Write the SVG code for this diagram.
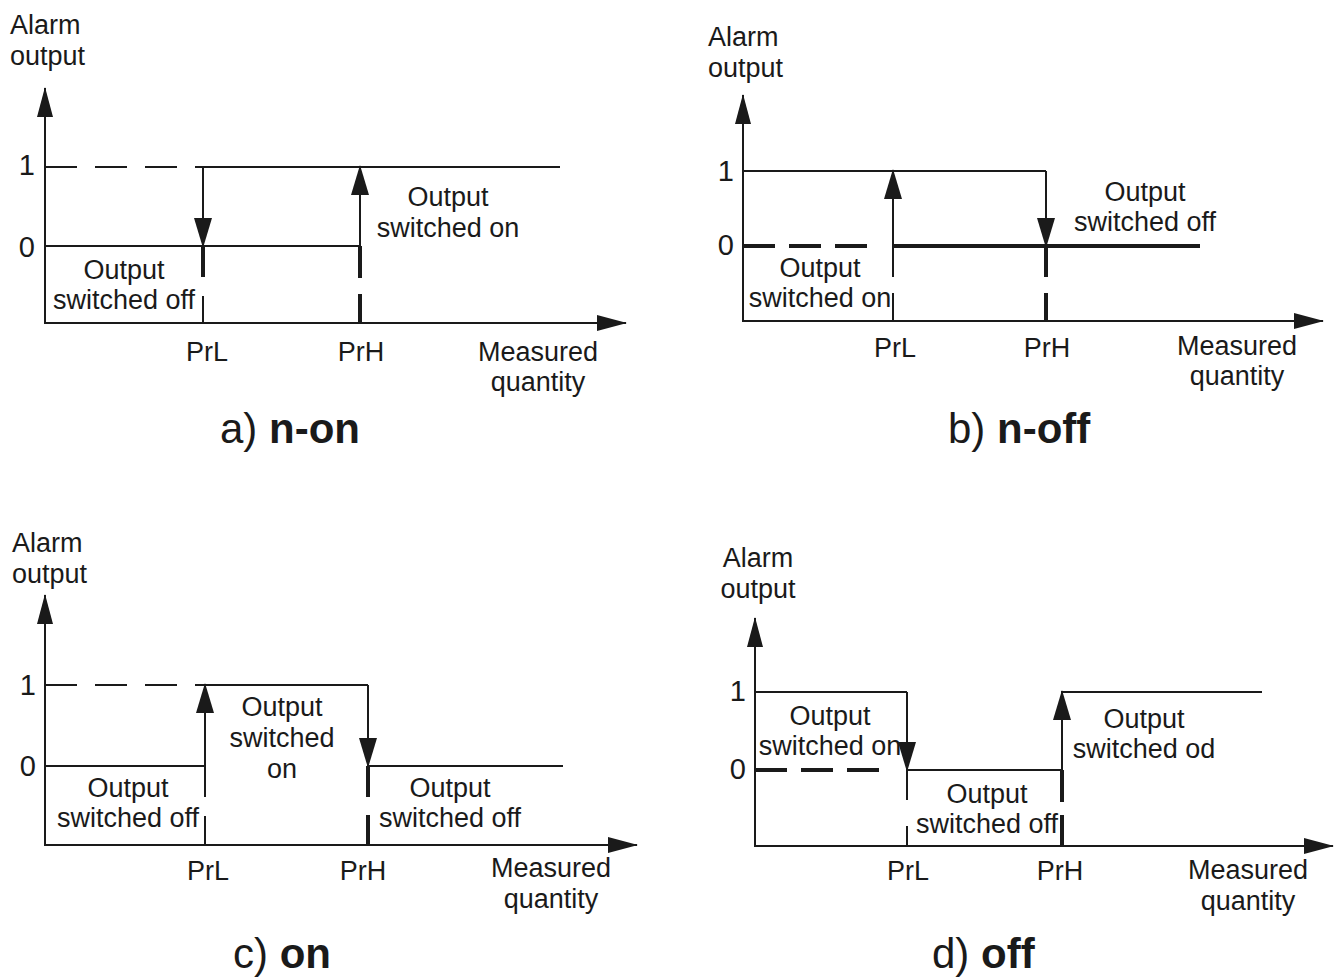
<svg xmlns="http://www.w3.org/2000/svg" width="1339" height="977" viewBox="0 0 1339 977">
<defs>
<marker id="ah" markerUnits="userSpaceOnUse" markerWidth="30" markerHeight="20" refX="29" refY="9" orient="auto">
<path d="M0,0 L30,9 L0,18 z" fill="#1a1a1a"/>
</marker>
<marker id="ax" markerUnits="userSpaceOnUse" markerWidth="30" markerHeight="18" refX="29" refY="8" orient="auto">
<path d="M0,0 L30,8 L0,16 z" fill="#1a1a1a"/>
</marker>
<style>
text{font-family:"Liberation Sans",Arial,sans-serif;font-size:27px;fill:#1a1a1a}
.m{text-anchor:middle}
.e{text-anchor:end;font-size:29px}
.t{font-size:42px}
.b{font-weight:bold}
line{stroke:#1a1a1a;stroke-linecap:butt;fill:none}
.th{stroke-width:2}
.tk{stroke-width:4}
.ds{stroke-width:2;stroke-dasharray:32 18}
.dk{stroke-width:4;stroke-dasharray:32 14}
.axis{stroke-width:2;marker-end:url(#ax)}
.arr{stroke-width:2;marker-end:url(#ah)}
</style>
</defs>
<rect width="1339" height="977" fill="#fff"/>

<g id="connectors">
<!-- panel a -->
<line class="axis" x1="45" y1="324" x2="45" y2="88"/>
<line class="axis" x1="44" y1="323" x2="626" y2="323"/>
<line class="ds" x1="45" y1="167" x2="203" y2="167"/>
<line class="th" x1="203" y1="167" x2="560" y2="167"/>
<line class="th" x1="45" y1="246" x2="360" y2="246"/>
<line class="arr" x1="203" y1="167" x2="203" y2="247"/>
<line class="tk" x1="203" y1="246" x2="203" y2="277"/>
<line class="th" x1="203" y1="296" x2="203" y2="323"/>
<line class="arr" x1="360" y1="246" x2="360" y2="166"/>
<line class="tk" x1="360" y1="246" x2="360" y2="278"/>
<line class="tk" x1="360" y1="294" x2="360" y2="323"/>

<!-- panel b -->
<line class="axis" x1="743" y1="322" x2="743" y2="95"/>
<line class="axis" x1="742" y1="321" x2="1323" y2="321"/>
<line class="th" x1="743" y1="171" x2="1046" y2="171"/>
<line class="dk" x1="743" y1="246" x2="875" y2="246"/>
<line class="tk" x1="893" y1="246" x2="1200" y2="246"/>
<line class="arr" x1="893" y1="277" x2="893" y2="170"/>
<line class="th" x1="893" y1="293" x2="893" y2="321"/>
<line class="arr" x1="1046" y1="171" x2="1046" y2="247"/>
<line class="tk" x1="1046" y1="246" x2="1046" y2="277"/>
<line class="tk" x1="1046" y1="293" x2="1046" y2="321"/>

<!-- panel c -->
<line class="axis" x1="45" y1="846" x2="45" y2="595"/>
<line class="axis" x1="44" y1="845" x2="637" y2="845"/>
<line class="ds" x1="45" y1="685" x2="205" y2="685"/>
<line class="th" x1="205" y1="685" x2="368" y2="685"/>
<line class="th" x1="45" y1="766" x2="205" y2="766"/>
<line class="th" x1="368" y1="766" x2="563" y2="766"/>
<line class="arr" x1="205" y1="797" x2="205" y2="684"/>
<line class="th" x1="205" y1="816" x2="205" y2="845"/>
<line class="arr" x1="368" y1="685" x2="368" y2="767"/>
<line class="tk" x1="368" y1="766" x2="368" y2="797"/>
<line class="tk" x1="368" y1="815" x2="368" y2="845"/>

<!-- panel d -->
<line class="axis" x1="755" y1="847" x2="755" y2="618"/>
<line class="axis" x1="754" y1="846" x2="1333" y2="846"/>
<line class="th" x1="755" y1="692" x2="907" y2="692"/>
<line class="th" x1="1062" y1="692" x2="1262" y2="692"/>
<line class="dk" x1="755" y1="770" x2="893" y2="770"/>
<line class="th" x1="907" y1="770" x2="1062" y2="770"/>
<line class="arr" x1="907" y1="692" x2="907" y2="771"/>
<line class="th" x1="907" y1="770" x2="907" y2="800"/>
<line class="th" x1="907" y1="826" x2="907" y2="846"/>
<line class="arr" x1="1062" y1="770" x2="1062" y2="691"/>
<line class="tk" x1="1062" y1="770" x2="1062" y2="802"/>
<line class="tk" x1="1062" y1="815" x2="1062" y2="846"/>
</g>

<g id="panel-a">
<text x="10" y="34">Alarm</text>
<text x="10" y="65">output</text>
<text class="e" x="35" y="175">1</text>
<text class="e" x="35" y="257">0</text>
<text class="m" x="124" y="279">Output</text>
<text class="m" x="124" y="309">switched off</text>
<text class="m" x="448" y="206">Output</text>
<text class="m" x="448" y="237">switched on</text>
<text class="m" x="207" y="361">PrL</text>
<text class="m" x="361" y="361">PrH</text>
<text class="m" x="538" y="361">Measured</text>
<text class="m" x="538" y="391">quantity</text>
<text class="t" x="220" y="443">a) <tspan class="b">n-on</tspan></text>
</g>

<g id="panel-b">
<text x="708" y="46">Alarm</text>
<text x="708" y="77">output</text>
<text class="e" x="734" y="181">1</text>
<text class="e" x="734" y="255">0</text>
<text class="m" x="1145" y="201">Output</text>
<text class="m" x="1145" y="231">switched off</text>
<text class="m" x="820" y="277">Output</text>
<text class="m" x="820" y="307">switched on</text>
<text class="m" x="895" y="357">PrL</text>
<text class="m" x="1047" y="357">PrH</text>
<text class="m" x="1237" y="355">Measured</text>
<text class="m" x="1237" y="385">quantity</text>
<text class="t" x="948" y="443">b) <tspan class="b">n-off</tspan></text>
</g>

<g id="panel-c">
<text x="12" y="552">Alarm</text>
<text x="12" y="583">output</text>
<text class="e" x="36" y="695">1</text>
<text class="e" x="36" y="776">0</text>
<text class="m" x="282" y="716">Output</text>
<text class="m" x="282" y="747">switched</text>
<text class="m" x="282" y="778">on</text>
<text class="m" x="128" y="797">Output</text>
<text class="m" x="128" y="827">switched off</text>
<text class="m" x="450" y="797">Output</text>
<text class="m" x="450" y="827">switched off</text>
<text class="m" x="208" y="880">PrL</text>
<text class="m" x="363" y="880">PrH</text>
<text class="m" x="551" y="877">Measured</text>
<text class="m" x="551" y="908">quantity</text>
<text class="t" x="233" y="968">c) <tspan class="b">on</tspan></text>
</g>

<g id="panel-d">
<text class="m" x="758" y="567">Alarm</text>
<text class="m" x="758" y="598">output</text>
<text class="e" x="746" y="701">1</text>
<text class="e" x="746" y="779">0</text>
<text class="m" x="830" y="725">Output</text>
<text class="m" x="830" y="755">switched on</text>
<text class="m" x="1144" y="728">Output</text>
<text class="m" x="1144" y="758">switched od</text>
<text class="m" x="987" y="803">Output</text>
<text class="m" x="987" y="833">switched off</text>
<text class="m" x="908" y="880">PrL</text>
<text class="m" x="1060" y="880">PrH</text>
<text class="m" x="1248" y="879">Measured</text>
<text class="m" x="1248" y="910">quantity</text>
<text class="t" x="932" y="968">d) <tspan class="b">off</tspan></text>
</g>
</svg>
